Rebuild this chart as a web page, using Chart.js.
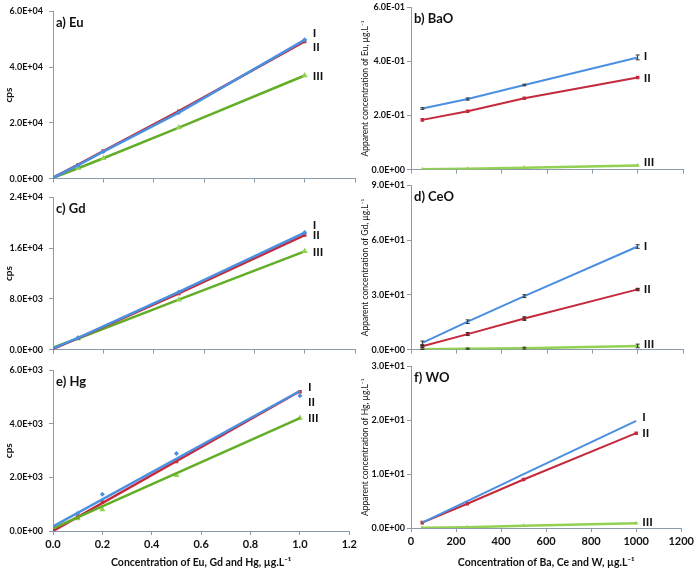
<!DOCTYPE html>
<html>
<head>
<meta charset="utf-8">
<script src="https://cdn.jsdelivr.net/npm/chart.js@4/dist/chart.umd.min.js"></script>
<style>
  body { margin:0; background:#fff; }
  #wrap { position:relative; width:697px; height:570px; overflow:hidden; }
  canvas { position:absolute; }
</style>
</head>
<body>
<div id="wrap">
  <canvas id="cA"></canvas>
  <canvas id="cC"></canvas>
  <canvas id="cE"></canvas>
  <canvas id="cB"></canvas>
  <canvas id="cD"></canvas>
  <canvas id="cF"></canvas>
</div>
<script>
// ---- data ----
// left column: signal (cps) vs concentration of Eu, Gd, Hg
var euX   = [0, 0.1, 0.2, 0.5, 1.0];
var euI   = [300, 4800, 9700, 23700, 49800];
var euII  = [300, 5000, 9900, 24200, 49200];
var euIII = [300, 3700, 7300, 18300, 37000];

var gdX   = [0, 0.1, 0.5, 1.0];
var gdI   = [200, 1850, 9100, 18450];
var gdII  = [100, 1800, 8860, 18060];
var gdIII = [300, 1750, 7880, 15500];

var hgX   = [0, 0.1, 0.2, 0.5, 1.0];
var hgI   = [150, 650, 1370, 2900, 5050];
var hgII  = [0, 520, 1080, 2600, 5200];
var hgIII = [80, 470, 800, 2080, 4220];
// trendlines drawn in panel e (end points)
var hgTrendX   = [0, 1.0];
var hgTrendI   = [170, 5230];
var hgTrendII  = [0, 5220];
var hgTrendIII = [100, 4220];

// right column: apparent concentration vs concentration of Ba, Ce, W
var oxX = [50, 250, 500, 1000];

var baoI   = [0.226, 0.261, 0.313, 0.415];
var baoII  = [0.184, 0.216, 0.264, 0.341];
var baoIII = [0.001, 0.003, 0.007, 0.015];
var baoErrI = [0.003, 0.004, 0.003, 0.009];

var ceoI   = [3.7, 15.3, 29.3, 56.5];
var ceoII  = [1.8, 8.5, 17.0, 33.0];
var ceoIII = [0.2, 0.5, 0.8, 2.0];
var ceoErrI   = [1.0, 1.0, 0.8, 1.0];
var ceoErrII  = [0.5, 0.8, 1.0, 0.5];
var ceoErrIII = [0.1, 0.3, 0.5, 1.0];

var woI   = [1.0, 5.0, 10.0, 19.9];
var woII  = [1.0, 4.5, 9.0, 17.6];
var woIII = [0.05, 0.15, 0.4, 0.9];

var seriesNames = ['I', 'II', 'III'];

// ---- styles ----
var BLUE = '#4a8fe0', RED = '#c42a3c', GREEN = '#62ae27', LGREEN = '#93d152';
var AXIS = '#8a9cac';
var FONT = 'Lato, "Open Sans", sans-serif';

function pts(xs, ys) {
  return xs.map(function (x, i) { return {x: x, y: ys[i]}; });
}

function sci(v) {
  if (Math.abs(v) < 1e-12) return '0.0E+00';
  var e = Math.floor(Math.log10(Math.abs(v)) + 1e-9);
  var m = v / Math.pow(10, e);
  var s = Math.abs(e) < 10 ? '0' + Math.abs(e) : '' + Math.abs(e);
  return m.toFixed(1) + 'E' + (e < 0 ? '-' : '+') + s;
}

// error bars, series labels and panel title
var decor = {
  id: 'decor',
  afterDatasetsDraw: function (chart, args, o) {
    var ctx = chart.ctx, xs = chart.scales.x, ys = chart.scales.y;
    ctx.save();
    chart.data.datasets.forEach(function (ds) {
      if (!ds.err) return;
      ctx.strokeStyle = '#333';
      ctx.lineWidth = 1;
      ds.data.forEach(function (p, j) {
        var e = ds.err[j];
        if (!e) return;
        var x = xs.getPixelForValue(p.x);
        var y1 = ys.getPixelForValue(p.y + e), y2 = ys.getPixelForValue(p.y - e);
        ctx.beginPath();
        ctx.moveTo(x, y1); ctx.lineTo(x, y2);
        ctx.moveTo(x - 2, y1); ctx.lineTo(x + 2, y1);
        ctx.moveTo(x - 2, y2); ctx.lineTo(x + 2, y2);
        ctx.stroke();
      });
    });
    ctx.fillStyle = '#111';
    ctx.font = 'bold 13px ' + FONT;
    ctx.textBaseline = 'middle';
    ctx.textAlign = 'left';
    ctx.fillText(o.title, chart.chartArea.left + 3, chart.chartArea.top + 11);
    ctx.font = 'bold 12px ' + FONT;
    o.labelY.forEach(function (v, i) {
      ctx.fillText(seriesNames[i], xs.getPixelForValue(o.labelX) + o.labelDx, ys.getPixelForValue(v));
    });
    ctx.restore();
  }
};

function makeChart(id, box, cfg) {
  var cv = document.getElementById(id);
  cv.width = box.w; cv.height = box.h;
  cv.style.left = box.l + 'px'; cv.style.top = box.t + 'px';
  cv.style.width = box.w + 'px'; cv.style.height = box.h + 'px';
  new Chart(cv, {
    type: 'scatter',
    data: {datasets: cfg.datasets},
    plugins: [decor],
    options: {
      responsive: false,
      animation: false,
      devicePixelRatio: 1,
      layout: {padding: cfg.padding},
      plugins: {
        legend: {display: false},
        tooltip: {enabled: false},
        decor: {title: cfg.title, labelX: cfg.labelX, labelDx: cfg.labelDx, labelY: cfg.labelY}
      },
      scales: {
        x: {
          type: 'linear', min: cfg.xmin, max: cfg.xmax,
          afterFit: function (s) { s.height = cfg.xH; },
          grid: {drawOnChartArea: false, drawTicks: true, tickLength: 4, color: AXIS},
          border: {color: AXIS, width: 1},
          ticks: {
            display: cfg.xLabels, stepSize: cfg.xstep, padding: 3, color: '#111',
            font: {family: FONT, size: 11, weight: 'bold'},
            callback: cfg.xfmt
          },
          title: {
            display: !!cfg.xTitle, text: cfg.xTitle, color: '#111',
            font: {family: FONT, size: 10.5, weight: 'bold'}, padding: {top: 0, bottom: 1}
          }
        },
        y: {
          type: 'linear', min: 0, max: cfg.ymax,
          afterFit: function (s) { s.width = cfg.yW; },
          grid: {drawOnChartArea: false, drawTicks: true, tickLength: 4, color: AXIS},
          border: {color: AXIS, width: 1},
          ticks: {
            stepSize: cfg.ystep, padding: cfg.yPad, color: '#111',
            font: {family: FONT, size: 9, weight: 'bold'},
            callback: function (v) { return sci(v); }
          },
          title: {
            display: true, text: cfg.yTitle, color: '#111',
            font: cfg.yTitleFont, padding: {top: cfg.yTitlePad, bottom: 0}
          }
        }
      }
    }
  });
}

function line(data, color, ptStyle, ptColor, width, radius) {
  return {
    data: data, showLine: true, borderColor: color, borderWidth: width,
    pointStyle: ptStyle, pointRadius: radius, pointBackgroundColor: ptColor,
    pointBorderColor: ptColor, pointBorderWidth: 0, tension: 0
  };
}
function marks(data, ptStyle, ptColor, radius) {
  return {
    data: data, showLine: false, pointStyle: ptStyle, pointRadius: radius,
    pointBackgroundColor: ptColor, pointBorderColor: ptColor, pointBorderWidth: 0
  };
}

var leftBase = {
  xmin: 0, xmax: 1.2, xstep: 0.2, yW: 53, yPad: 6, labelX: 1.0, labelDx: 8,
  xfmt: function (v) { return v.toFixed(1); },
  yTitle: 'cps', yTitlePad: 3, yTitleFont: {family: FONT, size: 10, weight: 'bold'}
};
var rightBase = {
  xmin: 0, xmax: 1200, xstep: 200, yW: 51, yPad: 2, labelX: 1000, labelDx: 6,
  xfmt: function (v) { return v; },
  yTitlePad: 0, yTitleFont: {family: FONT, size: 8.5, weight: 'normal'}
};
function ext(a, b) { var r = {}; for (var k in a) r[k] = a[k]; for (var k2 in b) r[k2] = b[k2]; return r; }

// a) Eu
makeChart('cA', {l: 0, t: 0, w: 360, h: 190}, ext(leftBase, {
  title: 'a) Eu', ymax: 60000, ystep: 20000, xLabels: false, xH: 4,
  padding: {top: 7, bottom: 1, left: 0, right: 5},
  labelY: [52200, 47200, 36700],
  datasets: [
    line(pts(euX, euI), BLUE, 'rectRot', BLUE, 2.5, 2.5),
    line(pts(euX, euII), RED, 'rect', RED, 2.5, 2.5),
    line(pts(euX, euIII), GREEN, 'triangle', LGREEN, 2.5, 3.5)
  ]
}));
// c) Gd
makeChart('cC', {l: 0, t: 186, w: 360, h: 175}, ext(leftBase, {
  title: 'c) Gd', ymax: 24000, ystep: 8000, xLabels: false, xH: 4,
  padding: {top: 7, bottom: 0, left: 0, right: 5},
  labelY: [19590, 18100, 15350],
  datasets: [
    line(pts(gdX, gdI), BLUE, 'rectRot', BLUE, 2.5, 2.5),
    line(pts(gdX, gdII), RED, 'rect', RED, 2.5, 2.5),
    line(pts(gdX, gdIII), GREEN, 'triangle', LGREEN, 2.5, 3.5)
  ]
}));
// e) Hg
makeChart('cE', {l: 0, t: 359, w: 360, h: 211}, ext(leftBase, {
  title: 'e) Hg', ymax: 6000, ystep: 2000, xLabels: true, xH: 39,
  xTitle: 'Concentration of Eu, Gd and Hg, \u00b5g.L\u207b\u00b9',
  padding: {top: 7, bottom: 0, left: 0, right: 5},
  labelY: [5370, 4810, 4200],
  datasets: [
    line(pts(hgTrendX, hgTrendI), BLUE, 'circle', BLUE, 2.5, 0),
    line(pts(hgTrendX, hgTrendIII), GREEN, 'circle', GREEN, 2.5, 0),
    line(pts(hgTrendX, hgTrendII), RED, 'circle', RED, 2.5, 0),
    marks(pts(hgX, hgI), 'rectRot', BLUE, 2.5),
    marks(pts(hgX, hgII), 'rect', RED, 2.5),
    marks(pts(hgX, hgIII), 'triangle', LGREEN, 3.5)
  ]
}));

// b) BaO
var dsB = [
  line(pts(oxX, baoI), BLUE, 'crossRot', BLUE, 2, 2),
  line(pts(oxX, baoII), RED, 'rect', RED, 2, 2.5),
  line(pts(oxX, baoIII), LGREEN, 'triangle', LGREEN, 2.5, 2.5)
];
dsB[0].err = baoErrI;
makeChart('cB', {l: 360, t: 0, w: 337, h: 177}, ext(rightBase, {
  title: 'b) BaO', ymax: 0.6, ystep: 0.2, xLabels: false, xH: 4,
  yTitle: 'Apparent concentration of Eu, \u00b5g.L\u207b\u00b9',
  padding: {top: 5, bottom: 0, left: 0, right: 14},
  labelY: [0.418, 0.338, 0.029],
  datasets: dsB
}));
// d) CeO
var dsD = [
  line(pts(oxX, ceoI), BLUE, 'crossRot', BLUE, 2, 2),
  line(pts(oxX, ceoII), RED, 'rect', RED, 2, 2.5),
  line(pts(oxX, ceoIII), LGREEN, 'triangle', LGREEN, 2.5, 2.5)
];
dsD[0].err = ceoErrI; dsD[1].err = ceoErrII; dsD[2].err = ceoErrIII;
makeChart('cD', {l: 360, t: 178, w: 337, h: 179}, ext(rightBase, {
  title: 'd) CeO', ymax: 90, ystep: 30, xLabels: false, xH: 4,
  yTitle: 'Apparent concentration of Gd, \u00b5g.L\u207b\u00b9',
  padding: {top: 7, bottom: 0, left: 0, right: 14},
  labelY: [56.8, 32.9, 3.2],
  datasets: dsD
}));
// f) WO
makeChart('cF', {l: 360, t: 359, w: 337, h: 211}, ext(rightBase, {
  title: 'f) WO', ymax: 30, ystep: 10, xLabels: true, xH: 42,
  yTitle: 'Apparent concentration of Hg, \u00b5g.L\u207b\u00b9',
  xTitle: 'Concentration of Ba, Ce and W, \u00b5g.L\u207b\u00b9',
  padding: {top: 7, bottom: 0, left: 0, right: 14},
  labelY: [20.6, 17.7, 1.0],
  datasets: [
    line(pts(oxX, woI), BLUE, 'crossRot', BLUE, 2, 2),
    line(pts(oxX, woII), RED, 'rect', RED, 2, 2.5),
    line(pts(oxX, woIII), LGREEN, 'triangle', LGREEN, 2.5, 2.5)
  ]
}));
</script>
</body>
</html>
